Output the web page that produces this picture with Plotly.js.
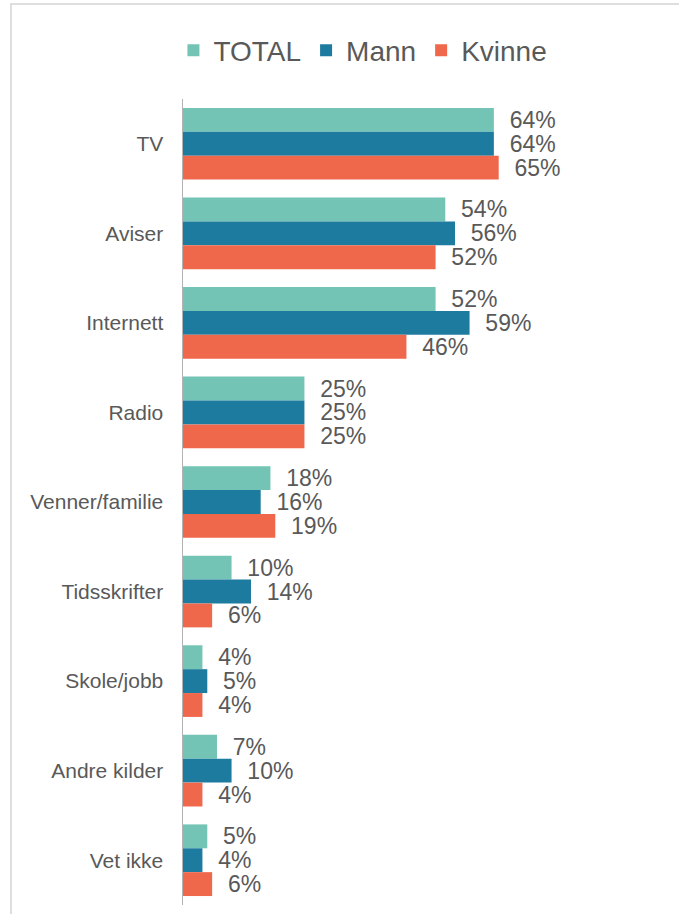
<!DOCTYPE html>
<html>
<head>
<meta charset="utf-8">
<script src="https://cdn.plot.ly/plotly-3.0.1.min.js"></script>
<style>
  html, body { margin: 0; padding: 0; background: #ffffff; }
  #chart { width: 679px; height: 914px; }
  #frame { position: absolute; left: 10px; top: 3px; width: 669px; height: 911px;
           border-top: 2px solid #dedede; border-left: 2px solid #dedede; pointer-events: none; box-sizing: border-box; }
</style>
</head>
<body>
<div id="chart"></div>
<div id="frame"></div>
<script>
const categories = ["TV", "Aviser", "Internett", "Radio", "Venner/familie", "Tidsskrifter", "Skole/jobb", "Andre kilder", "Vet ikke"];
const seriesNames = ["TOTAL", "Mann", "Kvinne"];
const totalValues = [64, 54, 52, 25, 18, 10, 4, 7, 5];
const mannValues = [64, 56, 59, 25, 16, 14, 5, 10, 4];
const kvinneValues = [65, 52, 46, 25, 19, 6, 4, 4, 6];
const colors = ["#73C4B4", "#1E7BA0", "#F0684C"];

const FONT = "Liberation Sans, Arial, sans-serif";
const TEXT = "#595959";

const allValues = [totalValues, mannValues, kvinneValues];
const traces = allValues.map((vals, i) => ({
  type: "bar",
  orientation: "h",
  name: seriesNames[i],
  x: vals,
  y: categories,
  marker: { color: colors[i] },
  texttemplate: "  %{x}%",
  textposition: "outside",
  constraintext: "none",
  cliponaxis: false,
  textfont: { family: FONT, size: 23, color: TEXT },
  hoverinfo: "skip"
}));

const layout = {
  width: 679,
  height: 914,
  margin: { l: 183, r: 20, t: 99, b: 9 },
  paper_bgcolor: "#ffffff",
  plot_bgcolor: "#ffffff",
  barmode: "group",
  bargap: 0.2,
  bargroupgap: 0,
  showlegend: true,
  legend: {
    orientation: "h",
    traceorder: "normal",
    x: 0.378,
    xanchor: "center",
    y: 1.06,
    yanchor: "middle",
    font: { family: FONT, size: 28, color: TEXT },
    itemclick: false
  },
  xaxis: {
    range: [0, 98],
    visible: false,
    showgrid: false,
    zeroline: false
  },
  yaxis: {
    type: "category",
    autorange: "reversed",
    showline: true,
    linecolor: "#b3b3b3",
    linewidth: 1.5,
    showgrid: false,
    zeroline: false,
    ticks: "outside",
    ticklen: 14,
    tickcolor: "rgba(0,0,0,0)",
    tickfont: { family: FONT, size: 21, color: TEXT }
  },
  font: { family: FONT, color: TEXT }
};

Plotly.newPlot("chart", traces, layout, { displayModeBar: false, staticPlot: true });
</script>
</body>
</html>
